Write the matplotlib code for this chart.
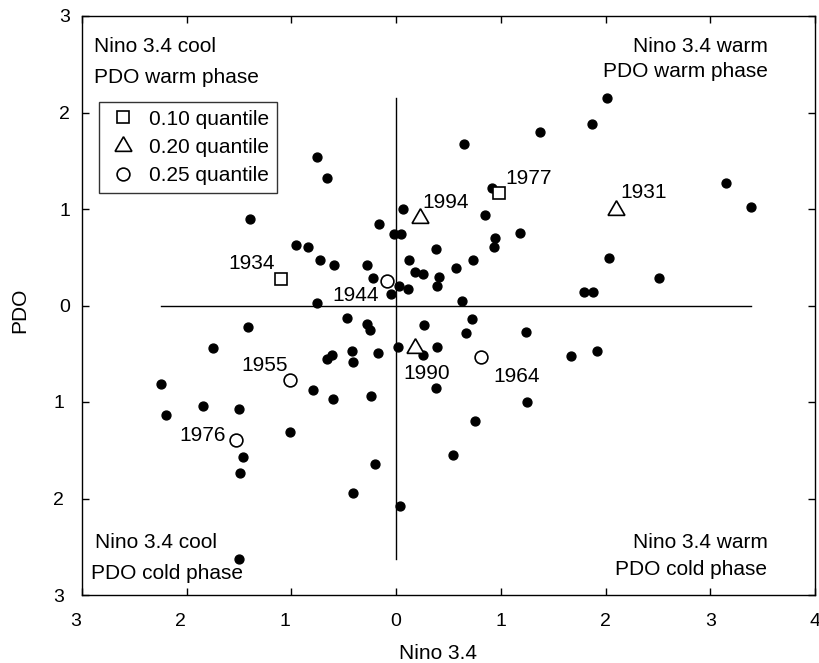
import matplotlib.pyplot as plt
import numpy as np
from matplotlib.lines import Line2D
from matplotlib.transforms import ScaledTranslation

plt.rcParams['font.family'] = ['Liberation Sans', 'DejaVu Sans']

# all years (filled dots)
dot_x = [-0.76, -0.66, -1.40, -0.16, -0.02, 0.05, -0.96, -0.84, -0.73, -0.59,
         -0.28, -0.22, 0.03, 0.11, -0.05, -0.76, -0.47, -0.28, -0.25, -1.41,
         2.01, 1.87, 1.37, 0.65, 0.92, 0.07, 0.85, 0.94, 0.93, 1.18,
         0.38, 0.12, 0.73, 0.18, 0.26, 0.41, 0.39, 0.57, 2.03, 1.79,
         1.88, 0.63, 3.15, 3.39, 2.51,
         0.27, 0.72, 0.67, 1.24, 0.02, 0.26, 0.39, -0.17, 1.67, 1.92,
         0.38, 1.25, 0.75, 0.54, 0.04,
         -1.75, -0.66, -0.61, -0.42, -0.41, -2.25, -0.79, -0.60, -0.24, -2.20,
         -1.84, -1.50, -1.01, -1.46, -1.49, -0.20, -0.41, -1.50]
dot_y = [1.54, 1.32, 0.90, 0.84, 0.74, 0.74, 0.63, 0.61, 0.47, 0.42,
         0.42, 0.29, 0.20, 0.17, 0.12, 0.03, -0.13, -0.19, -0.25, -0.22,
         2.15, 1.88, 1.80, 1.67, 1.22, 1.00, 0.94, 0.70, 0.61, 0.75,
         0.59, 0.47, 0.47, 0.35, 0.33, 0.30, 0.20, 0.39, 0.49, 0.14,
         0.14, 0.05, 1.27, 1.02, 0.28,
         -0.20, -0.14, -0.29, -0.27, -0.43, -0.51, -0.43, -0.49, -0.52, -0.47,
         -0.85, -1.00, -1.20, -1.55, -2.08,
         -0.44, -0.55, -0.51, -0.47, -0.59, -0.81, -0.88, -0.97, -0.94, -1.13,
         -1.04, -1.07, -1.31, -1.57, -1.74, -1.64, -1.94, -2.63]

# highlighted years
years = ['1934', '1977', '1994', '1931', '1990', '1944', '1955', '1976', '1964']
sp_x = [-1.10, 0.98, 0.23, 2.10, 0.18, -0.09, -1.01, -1.53, 0.81]
sp_y = [0.27, 1.17, 0.91, 0.99, -0.44, 0.25, -0.77, -1.39, -0.53]
sp_q = ['0.10', '0.10', '0.20', '0.20', '0.20', '0.25', '0.25', '0.25', '0.25']

quant_labels = ['0.10 quantile', '0.20 quantile', '0.25 quantile']

# label offsets (pixels) and alignment
lab_off = {'1934': (-6, 10, 'right'), '1977': (7, 9, 'left'), '1994': (2, 10, 'left'),
           '1931': (4, 12, 'left'), '1990': (-12, -31, 'left'), '1944': (-8, -20, 'right'),
           '1955': (-3, 9, 'right'), '1976': (-10, -1, 'right'), '1964': (12, -25, 'left')}
mstyle = {'0.10': dict(marker='s', ms=8.4), '0.20': dict(marker=(3, 0, 0), ms=14),
          '0.25': dict(marker='o', ms=9.2)}

fig = plt.figure(figsize=(8.19, 6.63), dpi=100)
ax = fig.add_axes([82 / 819, 68 / 663, 733 / 819, 579 / 663])

all_x = dot_x + sp_x
all_y = dot_y + sp_y
ax.plot([min(all_x), max(all_x)], [0, 0], color='black', lw=1.0)
ax.plot([0, 0], [min(all_y), max(all_y)], color='black', lw=1.0)

ax.plot(dot_x, dot_y, 'o', color='black', ms=6.4, ls='none')
for yr, x, y, q in zip(years, sp_x, sp_y, sp_q):
    ax.plot(x, y, ls='none', mfc='white', mec='black', mew=1.2, **mstyle[q])
    dx, dy, ha = lab_off[yr]
    ax.annotate(yr, (x, y), xytext=(dx * 0.72, dy * 0.72), textcoords='offset points',
                ha=ha, va='baseline', fontsize=15)

ax.set_xlim(-3, 4)
ax.set_ylim(-3, 3)
xt = np.arange(-3, 5)
yt = np.arange(-3, 4)
ax.set_xticks(xt)
ax.set_yticks(yt)
ax.set_xticklabels([str(abs(v)) for v in xt])
ax.set_yticklabels([str(abs(v)) for v in yt])
ax.tick_params(direction='in', length=5, width=1, top=True, right=True, labelsize=14)
ax.tick_params(axis='x', pad=13)
ax.tick_params(axis='y', pad=8.5)
for s in ax.spines.values():
    s.set_linewidth(1.0)

# negative labels sit a little to the left in the original
shift = ScaledTranslation(-6 / 100, 0, fig.dpi_scale_trans)
for v, lab in zip(xt, ax.get_xticklabels()):
    if v < 0:
        lab.set_transform(lab.get_transform() + shift)
for v, lab in zip(yt, ax.get_yticklabels()):
    if v < 0:
        lab.set_transform(lab.get_transform() + shift)

ax.set_xlabel('Nino 3.4', fontsize=15)
ax.set_ylabel('PDO', fontsize=15)
ax.xaxis.set_label_coords(0.485, -0.085)
ax.yaxis.set_label_coords(-0.0725, 0.491)

kw = dict(transform=ax.transAxes, fontsize=15, va='baseline')
ax.text(0.0164, 0.938, 'Nino 3.4 cool', ha='left', **kw)
ax.text(0.0164, 0.885, 'PDO warm phase', ha='left', **kw)
ax.text(0.9363, 0.938, 'Nino 3.4 warm', ha='right', **kw)
ax.text(0.9363, 0.894, 'PDO warm phase', ha='right', **kw)
ax.text(0.0177, 0.081, 'Nino 3.4 cool', ha='left', **kw)
ax.text(0.0123, 0.027, 'PDO cold phase', ha='left', **kw)
ax.text(0.9363, 0.081, 'Nino 3.4 warm', ha='right', **kw)
ax.text(0.9341, 0.035, 'PDO cold phase', ha='right', **kw)

handles = [Line2D([], [], ls='none', mfc='white', mec='black', mew=1.2, **mstyle[q])
           for q in ['0.10', '0.20', '0.25']]
leg = ax.legend(handles, quant_labels, loc='upper left', bbox_to_anchor=(0.0236, 0.851),
                borderaxespad=0, fontsize=15, frameon=True, fancybox=False,
                borderpad=0.35, labelspacing=0.45, handlelength=1.6, handletextpad=0.45)
leg.get_frame().set_edgecolor('black')
leg.get_frame().set_linewidth(1.0)

fig.savefig('out.png', dpi=100)
